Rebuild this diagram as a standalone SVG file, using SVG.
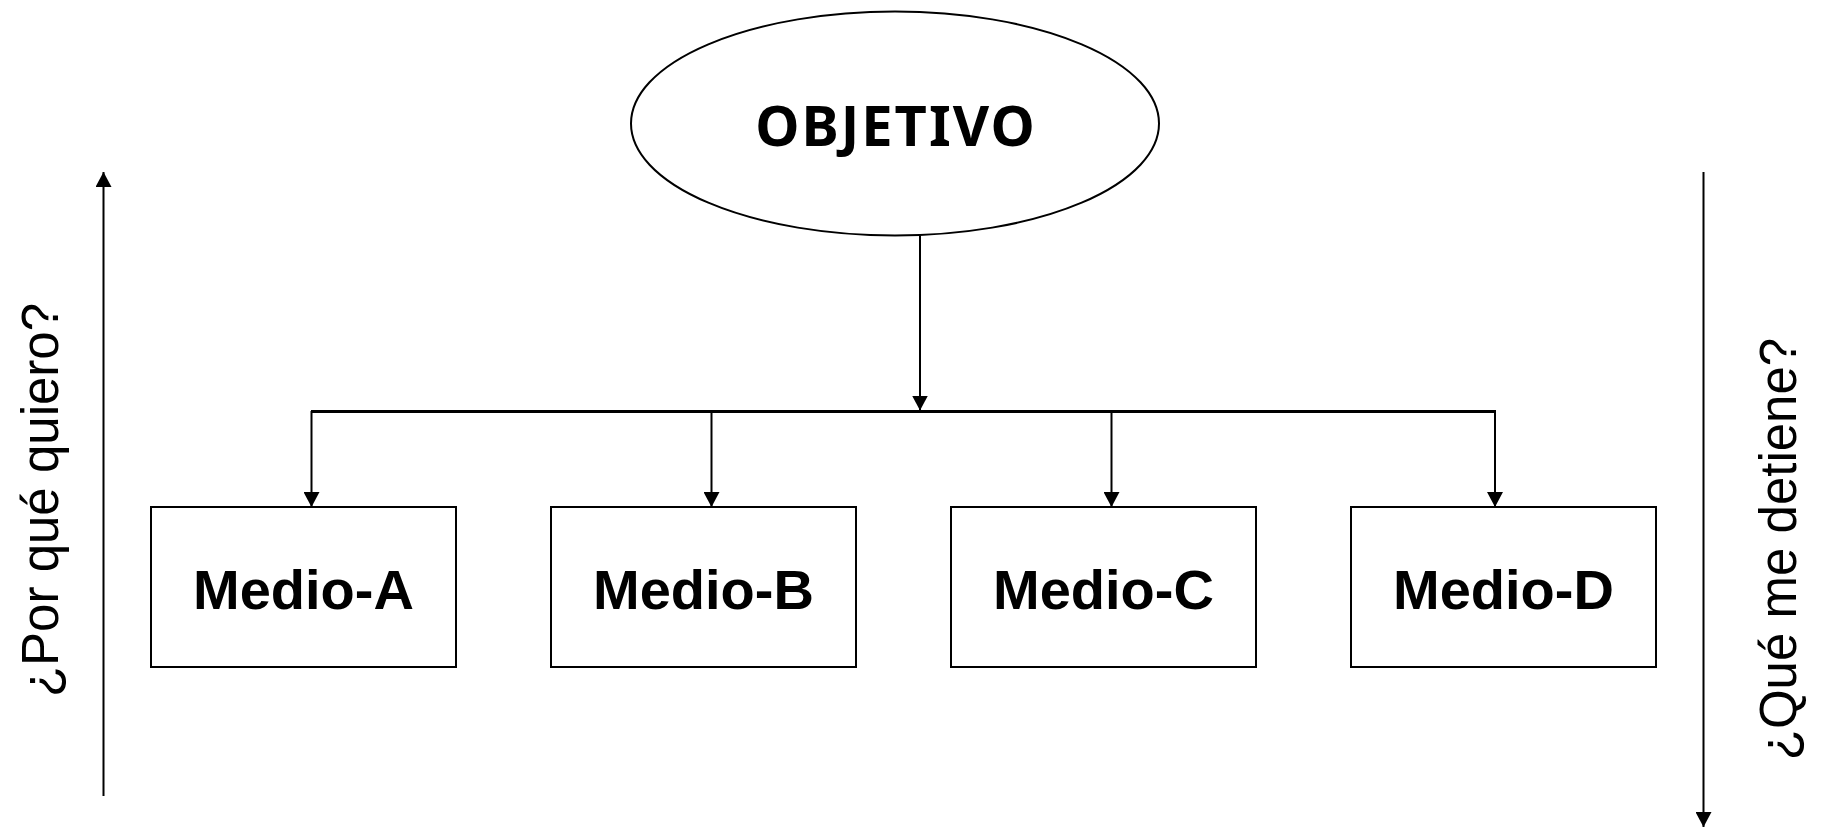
<svg xmlns="http://www.w3.org/2000/svg" width="1823" height="827" viewBox="0 0 1823 827">
<style>
.shape{fill:#fff;stroke:#000;stroke-width:2}
.line{fill:none;stroke:#000;stroke-width:2}
.bus{fill:none;stroke:#000;stroke-width:3}
.title{font-family:"Noto Sans","Open Sans",sans-serif;font-weight:bold;font-size:56px;letter-spacing:2px;text-anchor:middle}
.lbl{font-family:"Liberation Sans",Arial,sans-serif;font-weight:bold;font-size:56px;text-anchor:middle}
.side{font-family:"Liberation Sans",Arial,sans-serif;font-size:51px;text-anchor:middle}
</style>
<defs>
<marker id="arr" markerWidth="16" markerHeight="16" refX="15" refY="8" orient="auto" markerUnits="userSpaceOnUse">
<path d="M0,0 L15,8 L0,16 Z" fill="#000"/>
</marker>
</defs>
<g id="objetivo">
<ellipse class="shape" cx="895" cy="123.5" rx="264" ry="112"/>
<text class="title" x="896" y="146">OBJETIVO</text>
</g>
<g id="medio-a">
<rect class="shape" x="151" y="507" width="305" height="160"/>
<text class="lbl" x="303.5" y="609">Medio-A</text>
</g>
<g id="medio-b">
<rect class="shape" x="551" y="507" width="305" height="160"/>
<text class="lbl" x="703.5" y="609">Medio-B</text>
</g>
<g id="medio-c">
<rect class="shape" x="951" y="507" width="305" height="160"/>
<text class="lbl" x="1103.5" y="609">Medio-C</text>
</g>
<g id="medio-d">
<rect class="shape" x="1351" y="507" width="305" height="160"/>
<text class="lbl" x="1503.5" y="609">Medio-D</text>
</g>
<g id="connectors">
<line class="line" x1="920" y1="235.5" x2="920" y2="410.5" marker-end="url(#arr)"/>
<line class="bus" x1="311" y1="411.5" x2="1496" y2="411.5"/>
<line class="line" x1="311.5" y1="411" x2="311.5" y2="507" marker-end="url(#arr)"/>
<line class="line" x1="711.5" y1="411" x2="711.5" y2="507" marker-end="url(#arr)"/>
<line class="line" x1="1111.5" y1="411" x2="1111.5" y2="507" marker-end="url(#arr)"/>
<line class="line" x1="1495" y1="411" x2="1495" y2="507" marker-end="url(#arr)"/>
</g>
<g id="side-left">
<line class="line" x1="103.5" y1="796" x2="103.5" y2="172" marker-end="url(#arr)"/>
<text class="side" transform="translate(58,500) rotate(-90)">¿Por qué quiero?</text>
</g>
<g id="side-right">
<line class="line" x1="1703.5" y1="172" x2="1703.5" y2="827" marker-end="url(#arr)"/>
<text class="side" transform="translate(1796,549) rotate(-90)">¿Qué me detiene?</text>
</g>
</svg>
